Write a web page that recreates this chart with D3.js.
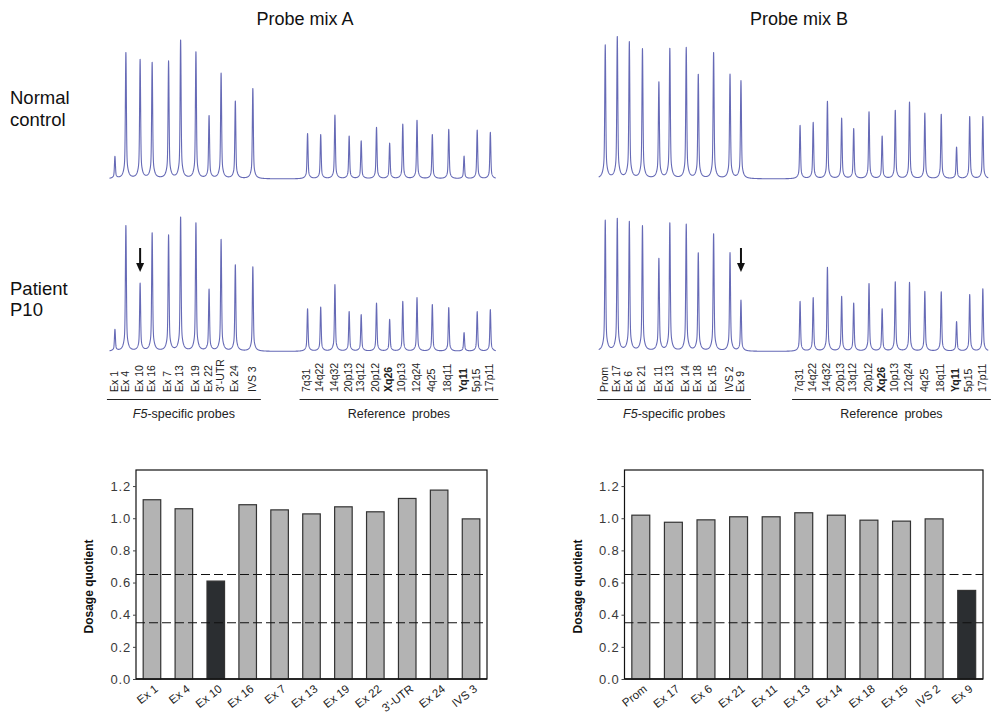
<!DOCTYPE html>
<html><head><meta charset="utf-8">
<script src="https://cdn.jsdelivr.net/npm/d3@7"></script>
<style>
body{margin:0;background:#fff;}
text{font-family:"Liberation Sans",Arial,sans-serif;}
</style></head><body>
<svg id="fig" width="996" height="715"></svg>
<script>
// ---- probe names ----
const probesA = ["Ex 1","Ex 4","Ex 10","Ex 16","Ex 7","Ex 13","Ex 19","Ex 22","3'-UTR","Ex 24","IVS 3"];
const probesB = ["Prom","Ex 17","Ex 6","Ex 21","Ex 11","Ex 13","Ex 14","Ex 18","Ex 15","IVS 2","Ex 9"];
const refProbes = ["7q31","14q22","14q32","20p13","13q12","20p12","Xq26","10p13","12q24","4q25","18q11","Yq11","5p15","17p11"];
const boldRefs = ["Xq26","Yq11"];

// ---- fragment lengths (nt) ----
const sizesA = [130,140,153,164,179,190,204,216,227,240,256];
const sizesB = [128,139,150,162,177,187,202,213,227,242,252];
const sizesRef = [306,318,331,344,355,369,381,393,406,420,435,449,461,473];

// ---- peak heights (RFU) ----
const controlA    = [730,4210,3960,3870,3910,4620,4230,2090,3510,2590,3020];
const controlARef = [1510,1470,2120,1420,1260,1710,1180,1820,1950,1480,1650,750,1620,1550];
const patientA    = [720,4200,2250,3950,3860,4470,4280,2050,3720,2880,2820];
const patientARef = [1420,1470,2220,1320,1220,1600,1060,1660,1790,1560,1460,620,1320,1390];
const controlB    = [4450,4730,4540,4320,3210,4340,4360,3470,4210,3470,3260];
const controlBRef = [1780,1870,2580,2010,1670,2230,1420,2280,2550,2180,2150,1050,2080,2080];
const patientB    = [4360,4420,4300,4170,3080,4270,4220,3270,3920,3280,1690];
const patientBRef = [1660,1780,2800,1820,1600,2260,1410,2320,2290,1990,1990,990,1890,2090];

// ---- dosage quotients ----
const dqA = [1.115,1.059,0.609,1.084,1.052,1.027,1.071,1.040,1.123,1.175,0.996];
const dqB = [1.019,0.975,0.990,1.009,1.009,1.034,1.019,0.988,0.982,0.996,0.551];
const cutoffs = [0.65, 0.35];
const dqTicks = [0,0.2,0.4,0.6,0.8,1.0,1.2];
const deletedA = "Ex 10";
const deletedB = "Ex 9";

const svg = d3.select("#fig");
const traceColor = "#666ab6";

// ---------- electropherograms ----------
const xA = d3.scaleLinear().domain([120,480]).range([104,498]);
const xB = d3.scaleLinear().domain([120,480]).range([596.5,990.5]);
const yCtrl = d3.scaleLinear().domain([0,5000]).range([179,29]);
const yPat  = d3.scaleLinear().domain([0,5000]).range([351.5,201.5]);

function peakSignal(sizes, heights, s){
  let v = 0;
  for (let i=0;i<sizes.length;i++){
    const d = s - sizes[i];
    v += heights[i]*(0.8*Math.exp(-d*d/(2*0.42*0.42)) + 0.2/(1+(d/1.5)*(d/1.5)));
  }
  return v;
}
function traceData(sizes, heights, lo, hi){
  const pts = [];
  for (let s=lo; s<=hi; s+=0.08) pts.push([s, peakSignal(sizes, heights, s)]);
  return pts;
}
function drawTrace(x, y, sizes, heights, lo, hi){
  const line = d3.line().x(d=>x(d[0])).y(d=>y(d[1]));
  svg.append("path").datum(traceData(sizes, heights, lo, hi))
    .attr("d", line).attr("fill","none")
    .attr("stroke", traceColor).attr("stroke-width",1.1)
    .attr("stroke-linejoin","round");
}
const allA = sizesA.concat(sizesRef), allB = sizesB.concat(sizesRef);
drawTrace(xA, yCtrl, allA, controlA.concat(controlARef), 125, 478);
drawTrace(xA, yPat,  allA, patientA.concat(patientARef), 125, 478);
drawTrace(xB, yCtrl, allB, controlB.concat(controlBRef), 122, 478);
drawTrace(xB, yPat,  allB, patientB.concat(patientBRef), 122, 478);

// arrows marking the deleted probe
function arrow(xc){
  const g = svg.append("g");
  g.append("line").attr("x1",xc).attr("x2",xc).attr("y1",248).attr("y2",264)
    .attr("stroke","#111").attr("stroke-width",2);
  g.append("path").attr("d",`M${xc-4},263 L${xc+4},263 L${xc},272 Z`).attr("fill","#111");
}
arrow(xA(sizesA[probesA.indexOf(deletedA)]));
arrow(xB(sizesB[probesB.indexOf(deletedB)]));

// probe labels
function probeLabels(x, names, sizes){
  svg.append("g").selectAll("text").data(names).join("text")
    .attr("transform",(d,i)=>`translate(${x(sizes[i])-1},392) rotate(-90)`)
    .attr("dy","0.35em").attr("font-size",10.5).attr("fill","#222")
    .attr("font-weight",d=>boldRefs.includes(d)?"bold":"normal")
    .text(d=>d);
}
probeLabels(xA, probesA, sizesA);
probeLabels(xA, refProbes, sizesRef);
probeLabels(xB, probesB, sizesB);
probeLabels(xB, refProbes, sizesRef);

function groupLine(x, sizes, padL, padR, isF5){
  const x1 = x(sizes[0])-padL, x2 = x(sizes[sizes.length-1])+padR;
  svg.append("line").attr("x1",x1).attr("x2",x2).attr("y1",399.5).attr("y2",399.5)
    .attr("stroke","#222").attr("stroke-width",1.2);
  const t = svg.append("text").attr("x",(x1+x2)/2).attr("y",418)
    .attr("text-anchor","middle").attr("font-size",12.5).attr("fill","#222");
  if (isF5){
    t.append("tspan").attr("font-style","italic").text("F5");
    t.append("tspan").text("-specific probes");
  } else {
    t.attr("word-spacing",3).text("Reference probes");
  }
}
groupLine(xA, sizesA, 8, 8, true);
groupLine(xA, sizesRef, 8, 8, false);
groupLine(xB, sizesB, 8, 10, true);
groupLine(xB, sizesRef, 8, 8, false);

// titles and row labels
svg.append("text").attr("x",305).attr("y",25).attr("text-anchor","middle")
  .attr("font-size",18).attr("fill","#111").text("Probe mix A");
svg.append("text").attr("x",799).attr("y",25).attr("text-anchor","middle")
  .attr("font-size",18).attr("fill","#111").text("Probe mix B");
[["Normal",104],["control",126],["Patient",295],["P10",316]].forEach(([t,y])=>{
  svg.append("text").attr("x",10).attr("y",y).attr("font-size",18.5).attr("fill","#111").text(t);
});

// ---------- dosage quotient bar charts ----------
function dqChart(left, right, names, values, deleted){
  const top = 470, bottom = 679;
  const x = d3.scaleBand().domain(names).range([left,right]).paddingInner(0.45).paddingOuter(0.225);
  const y = d3.scaleLinear().domain([0,1.3]).range([bottom,top]);
  const g = svg.append("g");
  g.append("rect").attr("x",left).attr("y",top).attr("width",right-left).attr("height",bottom-top)
    .attr("fill","none").attr("stroke","#111").attr("stroke-width",1.2);
  g.selectAll("rect.bar").data(values).join("rect").attr("class","bar")
    .attr("x",(d,i)=>x(names[i])).attr("width",x.bandwidth())
    .attr("y",d=>y(d)).attr("height",d=>y(0)-y(d))
    .attr("fill",(d,i)=>names[i]===deleted?"#2b2e31":"#b3b3b3")
    .attr("stroke","#333").attr("stroke-width",1.2);
  g.selectAll("line.cut").data(cutoffs).join("line").attr("class","cut")
    .attr("x1",left).attr("x2",right).attr("y1",d=>y(d)).attr("y2",d=>y(d))
    .attr("stroke","#111").attr("stroke-width",1.2).attr("stroke-dasharray","9,4");
  const ay = g.append("g").attr("transform",`translate(${left},0)`)
    .call(d3.axisLeft(y).tickValues(dqTicks).tickFormat(d3.format(".1f")).tickSize(3).tickPadding(2));
  ay.select(".domain").remove();
  ay.selectAll("line").attr("stroke","#444");
  ay.selectAll("text").attr("font-size",13).attr("fill","#3a3a3a").attr("letter-spacing",0.8)
    .attr("font-family","'Liberation Sans',Arial,sans-serif");
  g.append("line").attr("x1",left).attr("x2",right).attr("y1",bottom).attr("y2",bottom)
    .attr("stroke","#111").attr("stroke-width",1.5);
  g.append("text").attr("transform",`translate(${left-43},${(top+bottom)/2+12}) rotate(-90)`)
    .attr("text-anchor","middle").attr("font-size",12).attr("font-weight","bold").attr("fill","#111")
    .text("Dosage quotient");
  g.selectAll("text.xl").data(names).join("text").attr("class","xl")
    .attr("transform",d=>`translate(${x(d)+x.bandwidth()/2+2},${bottom+5}) rotate(-38)`)
    .attr("text-anchor","end").attr("dy","0.7em").attr("font-size",11.5).attr("fill","#222")
    .text(d=>d);
}
dqChart(136, 487, probesA, dqA, deletedA);
dqChart(624.5, 983, probesB, dqB, deletedB);
</script>
</body></html>
